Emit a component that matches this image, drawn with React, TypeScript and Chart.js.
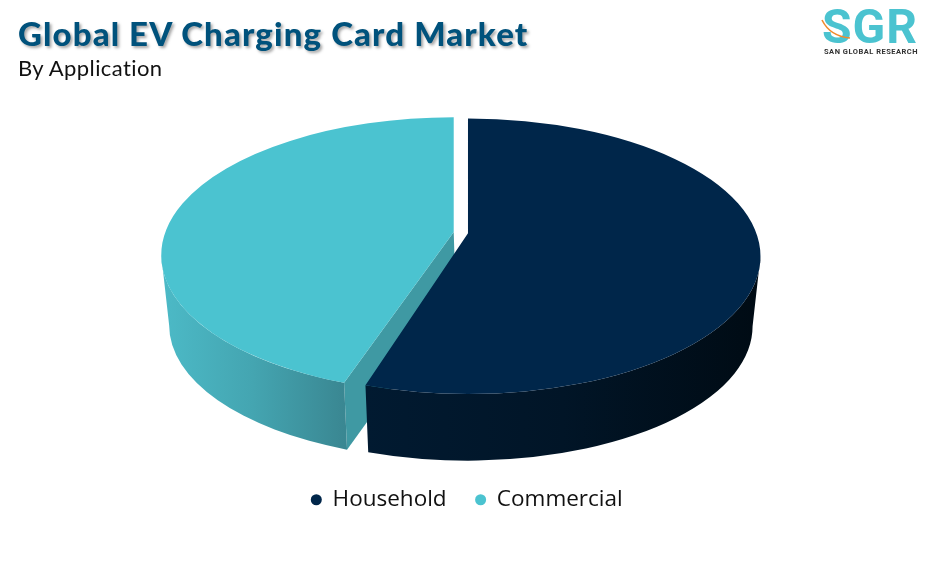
import React, { useEffect, useRef } from "react";
import { Chart, registerables, PieController } from "chart.js";

const categories = ["Household", "Commercial"];
const shareValues = [55.7, 44.3];
const sliceOffsets = [1, 13.5];
const cutGaps = [0, 0.026];
const topColors = ["#00264a", "#4bc3d0"];
const wallStops = [
  ["#011a31", "#011527", "#000b14"],
  ["#4cbac7", "#44a5b1", "#3a8792"],
];
const faceColor = "#3f99a3";

const FLATTEN = 0.471;
const DEPTH = 70;
const APEX_LIFT = 23;
const BOTTOM_RX = 0.973;
const BOTTOM_RY = 0.975;

class Pie3DController extends PieController {
  static id = "pie3d";
  draw() {
    const ctx: CanvasRenderingContext2D = (this as any).chart.ctx;
    const arcs: any[] = (this as any).getMeta().data;
    for (let i = arcs.length - 1; i >= 0; i--) {
      const arc = arcs[i];
      const { x, y, startAngle: rawStart, endAngle, outerRadius } = arc.getProps(
        ["x", "y", "startAngle", "endAngle", "outerRadius"],
        true
      );
      const startAngle = rawStart + cutGaps[i];
      const mid = (rawStart + endAngle) / 2;
      const off = arc.options.offset || 0;
      const cx = x + Math.cos(mid) * off;
      const cy = y + Math.sin(mid) * off * FLATTEN;
      const rx = outerRadius;
      const ry = outerRadius * FLATTEN;
      const brx = rx * BOTTOM_RX;
      const bry = ry * BOTTOM_RY;
      const byc = cy + DEPTH;
      const apexY = cy - APEX_LIFT;

      // cut face, visible when the slice's end edge points downward
      if (i === 1) {
        const a = startAngle;
        ctx.beginPath();
        ctx.moveTo(cx, apexY);
        ctx.lineTo(cx + Math.cos(a) * rx, cy + Math.sin(a) * ry);
        ctx.lineTo(cx + Math.cos(a) * brx, byc + Math.sin(a) * bry);
        ctx.lineTo(cx + 2, apexY + DEPTH - 3);
        ctx.closePath();
        ctx.fillStyle = faceColor;
        ctx.fill();
      }

      // outer wall: only the front half of the rim
      const from = Math.max(startAngle, 0);
      const to = Math.min(endAngle, Math.PI);
      if (to > from) {
        const xa = cx + Math.cos(to) * rx;
        const xb = cx + Math.cos(from) * rx;
        const g = ctx.createLinearGradient(Math.min(xa, xb), 0, Math.max(xa, xb), 0);
        wallStops[i].forEach((c, k) => g.addColorStop(k / 2, c));
        ctx.beginPath();
        ctx.ellipse(cx, cy, rx, ry, 0, from, to);
        ctx.ellipse(cx, byc, brx, bry, 0, to, from, true);
        ctx.closePath();
        ctx.fillStyle = g;
        ctx.fill();
      }

      // top surface
      ctx.beginPath();
      ctx.moveTo(cx, apexY);
      ctx.ellipse(cx, cy, rx, ry, 0, startAngle, endAngle);
      ctx.closePath();
      ctx.fillStyle = arc.options.backgroundColor;
      ctx.fill();
    }
  }
}

Chart.register(...registerables, Pie3DController);

export default function App() {
  const ref = useRef<HTMLCanvasElement | null>(null);
  useEffect(() => {
    document.body.style.margin = "0";
    document.body.style.background = "#fff";
    const chart = new Chart(ref.current as HTMLCanvasElement, {
      type: "pie3d" as any,
      data: {
        labels: categories,
        datasets: [
          {
            data: shareValues,
            backgroundColor: topColors,
            offset: sliceOffsets,
            borderWidth: 0,
          } as any,
        ],
      },
      options: {
        animation: false,
        responsive: false,
        radius: 292.5,
        layout: { padding: { left: 6, right: 0, top: 53, bottom: 47 } },
        plugins: {
          tooltip: { enabled: false },
          legend: {
            display: true,
            position: "bottom",
            labels: {
              usePointStyle: true,
              pointStyle: "circle",
              boxWidth: 10,
              boxHeight: 7.8,
              padding: 29,
              color: "#111111",
              font: { family: "'Open Sans'", size: 22.5 },
            },
          },
        },
      } as any,
    });
    return () => chart.destroy();
  }, []);

  return (
    <div style={{ position: "fixed", left: 0, top: 0, width: 928, height: 568, background: "#fff", overflow: "hidden" }}>
      <canvas ref={ref} width={928} height={568} style={{ display: "block", width: 928, height: 568 }} />
      <div
        style={{
          position: "absolute",
          left: 18,
          top: 13,
          fontFamily: "Lato",
          fontWeight: 900,
          fontSize: 33,
          lineHeight: "40px",
          letterSpacing: 1.12,
          color: "#00527c",
          textShadow: "2px 2px 3px rgba(0,0,0,0.35)",
          whiteSpace: "nowrap",
        }}
      >
        Global EV Charging Card Market
      </div>
      <div
        style={{
          position: "absolute",
          left: 18,
          top: 54,
          fontFamily: "Lato",
          fontSize: 22,
          lineHeight: "28px",
          letterSpacing: 0.4,
          color: "#111",
          whiteSpace: "nowrap",
        }}
      >
        By Application
      </div>
      <div
        style={{
          position: "absolute",
          left: 822,
          top: 2,
          fontFamily: "Roboto",
          fontWeight: 700,
          fontSize: 48,
          lineHeight: "50px",
          color: "#4bc3d0",
          letterSpacing: 1,
          whiteSpace: "nowrap",
        }}
      >
        SGR
      </div>
      <svg width={40} height={30} style={{ position: "absolute", left: 818, top: 16 }}>
        <path d="M4 4 C10 16 20 21 32 22" stroke="#f08a2c" strokeWidth={1.6} fill="none" />
      </svg>
      <div
        style={{
          position: "absolute",
          left: 824,
          top: 47,
          fontFamily: "Roboto",
          fontWeight: 700,
          fontSize: 7.5,
          lineHeight: "10px",
          letterSpacing: 0.5,
          color: "#333",
          whiteSpace: "nowrap",
        }}
      >
        SAN GLOBAL RESEARCH
      </div>
    </div>
  );
}
